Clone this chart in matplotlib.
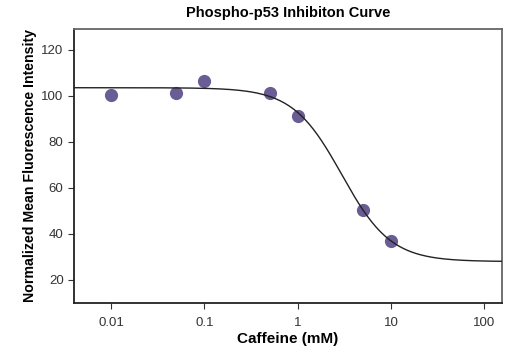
import numpy as np
import matplotlib
matplotlib.use("Agg")
import matplotlib.pyplot as plt

# measured points
caffeine_mm = [0.01, 0.05, 0.1, 0.5, 1, 5, 10]
mfi_norm = [100.3, 101.3, 106.5, 101.3, 91.0, 50.5, 37.0]

# 4-parameter logistic fit shown on the chart
fit_top = 103.5
fit_bottom = 28.0
fit_ic50 = 2.97
fit_hill = 1.65

x_ticks = [0.01, 0.1, 1, 10, 100]
x_ticklabels = ["0.01", "0.1", "1", "10", "100"]
y_ticks = [20, 40, 60, 80, 100, 120]

plt.rcParams["font.family"] = ["Liberation Sans", "DejaVu Sans"]

fig = plt.figure(figsize=(5.2, 3.5), dpi=100)
ax = fig.add_axes([74 / 520, 47 / 350, 428 / 520, 274 / 350])

xs = np.logspace(np.log10(0.004), np.log10(155), 300)
curve = fit_bottom + (fit_top - fit_bottom) / (1 + (xs / fit_ic50) ** fit_hill)

ax.plot(caffeine_mm, mfi_norm, "o", color="#6a5c94", markersize=9.5,
        markeredgewidth=0, zorder=2)
ax.plot(xs, curve, color="#222222", lw=1.0, zorder=3)

ax.set_xscale("log")
ax.set_xlim(0.004, 155)
ax.set_ylim(10, 129)
ax.set_xticks(x_ticks)
ax.set_xticklabels(x_ticklabels)
ax.xaxis.set_minor_locator(matplotlib.ticker.NullLocator())
ax.set_yticks(y_ticks)

ax.tick_params(axis="both", labelsize=9.5, colors="#333333", length=4, width=0.8)
ax.tick_params(axis="x", pad=6)

for side in ["left", "bottom"]:
    ax.spines[side].set_color("#222222")
    ax.spines[side].set_linewidth(1.3)
for side in ["top", "right"]:
    ax.spines[side].set_color("#666666")
    ax.spines[side].set_linewidth(1.3)

ax.set_title("Phospho-p53 Inhibiton Curve", fontsize=10.5, fontweight="bold", pad=9)
ax.set_xlabel("Caffeine (mM)", fontsize=11, fontweight="bold", labelpad=2)
ax.set_ylabel("Normalized Mean Fluorescence Intensity", fontsize=10.2,
              fontweight="bold", labelpad=3)

fig.savefig("out.png", dpi=100)
